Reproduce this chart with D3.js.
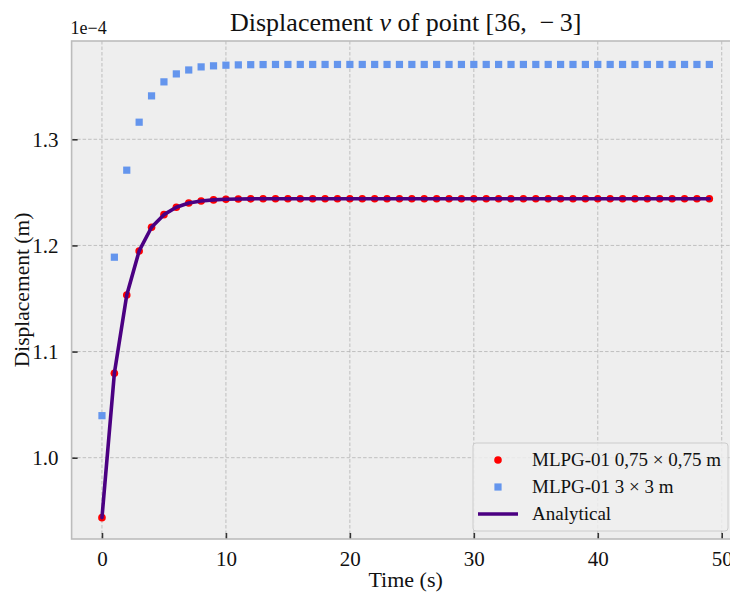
<!DOCTYPE html>
<html>
<head>
<meta charset="utf-8">
<script src="https://cdn.jsdelivr.net/npm/d3@7"></script>
<style>
  body { margin: 0; background: #fff; }
  svg { display: block; font-family: "Liberation Serif", "DejaVu Serif", serif; }
</style>
</head>
<body>
<svg id="chart" width="730" height="594"></svg>
<script>
// time steps (s)
var time = [0, 1, 2, 3, 4, 5, 6, 7, 8, 9, 10, 11, 12, 13, 14, 15, 16, 17, 18, 19,
            20, 21, 22, 23, 24, 25, 26, 27, 28, 29, 30, 31, 32, 33, 34, 35, 36, 37, 38, 39,
            40, 41, 42, 43, 44, 45, 46, 47, 48, 49];

// displacement, units of 1e-4 m
var mlpgFine = [0.9435, 1.0795, 1.1533, 1.1948, 1.2171, 1.2290, 1.2360, 1.2400, 1.2419, 1.2429,
                1.2435, 1.2438, 1.2439, 1.2440, 1.2440, 1.2440, 1.2440, 1.2440, 1.2440, 1.2440,
                1.2440, 1.2440, 1.2440, 1.2440, 1.2440, 1.2440, 1.2440, 1.2440, 1.2440, 1.2440,
                1.2440, 1.2440, 1.2440, 1.2440, 1.2440, 1.2440, 1.2440, 1.2440, 1.2440, 1.2440,
                1.2440, 1.2440, 1.2440, 1.2440, 1.2440, 1.2440, 1.2440, 1.2440, 1.2440, 1.2440];

var mlpgCoarse = [1.0396, 1.1889, 1.2709, 1.3161, 1.3409, 1.3541, 1.3616, 1.3653, 1.3682, 1.3692,
                  1.3698, 1.3701, 1.3703, 1.3704, 1.3705, 1.3705, 1.3705, 1.3705, 1.3705, 1.3705,
                  1.3705, 1.3705, 1.3705, 1.3705, 1.3705, 1.3705, 1.3705, 1.3705, 1.3705, 1.3705,
                  1.3705, 1.3705, 1.3705, 1.3705, 1.3705, 1.3705, 1.3705, 1.3705, 1.3705, 1.3705,
                  1.3705, 1.3705, 1.3705, 1.3705, 1.3705, 1.3705, 1.3705, 1.3705, 1.3705, 1.3705];

var analytical = [0.9435, 1.0795, 1.1533, 1.1948, 1.2171, 1.2290, 1.2360, 1.2400, 1.2419, 1.2429,
                  1.2435, 1.2438, 1.2439, 1.2440, 1.2440, 1.2440, 1.2440, 1.2440, 1.2440, 1.2440,
                  1.2440, 1.2440, 1.2440, 1.2440, 1.2440, 1.2440, 1.2440, 1.2440, 1.2440, 1.2440,
                  1.2440, 1.2440, 1.2440, 1.2440, 1.2440, 1.2440, 1.2440, 1.2440, 1.2440, 1.2440,
                  1.2440, 1.2440, 1.2440, 1.2440, 1.2440, 1.2440, 1.2440, 1.2440, 1.2440, 1.2440];

var xTicks = [0, 10, 20, 30, 40, 50];
var yTicks = [1.0, 1.1, 1.2, 1.3];
var legendLabels = ["MLPG-01 0,75 \u00d7 0,75 m", "MLPG-01 3 \u00d7 3 m", "Analytical"];

(function() {
  var x0 = 71.6, x1 = 739.7, y0 = 41, y1 = 539;

  var svg = d3.select("#chart");

  var x = d3.scaleLinear().domain([-2.45, 51.45]).range([x0, x1]);
  var y = d3.scaleLinear().domain([0.9234, 1.3926]).range([y1, y0]);

  // background
  svg.append("rect")
      .attr("x", x0).attr("y", y0)
      .attr("width", x1 - x0).attr("height", y1 - y0)
      .attr("fill", "#eeeeee");

  // grid
  var grid = svg.append("g")
      .attr("stroke", "#b2b2b2")
      .attr("stroke-width", 0.8)
      .attr("stroke-dasharray", "3.5,2");
  grid.selectAll(".gx").data(xTicks).enter().append("line")
      .attr("x1", d => x(d)).attr("x2", d => x(d))
      .attr("y1", y0).attr("y2", y1);
  grid.selectAll(".gy").data(yTicks).enter().append("line")
      .attr("x1", x0).attr("x2", x1)
      .attr("y1", d => y(d)).attr("y2", d => y(d));

  // axes, ticks pointing inwards
  var xAxis = svg.append("g")
      .attr("transform", "translate(0," + y1 + ")")
      .call(d3.axisBottom(x).tickValues(xTicks).tickSizeInner(-6).tickSizeOuter(0).tickPadding(12).tickFormat(d3.format("d")));
  var yAxis = svg.append("g")
      .attr("transform", "translate(" + x0 + ",0)")
      .call(d3.axisLeft(y).tickValues(yTicks).tickSizeInner(-6).tickSizeOuter(0).tickPadding(13).tickFormat(d3.format(".1f")));

  [xAxis, yAxis].forEach(function(a) {
    a.select(".domain").remove();
    a.selectAll(".tick line").attr("stroke", "#333").attr("stroke-width", 1.6);
    a.selectAll(".tick text")
        .attr("fill", "#111")
        .style("font-family", "'Liberation Serif', serif")
        .style("font-size", "21px");
  });

  // frame
  svg.append("rect")
      .attr("x", x0).attr("y", y0)
      .attr("width", x1 - x0).attr("height", y1 - y0)
      .attr("fill", "none")
      .attr("stroke", "#bcbcbc")
      .attr("stroke-width", 1.6);

  // series
  svg.append("g").selectAll("circle").data(time).enter().append("circle")
      .attr("cx", d => x(d))
      .attr("cy", (d, i) => y(mlpgFine[i]))
      .attr("r", 3.8)
      .attr("fill", "#ff0000");

  svg.append("g").selectAll("rect").data(time).enter().append("rect")
      .attr("x", d => x(d) - 3.6)
      .attr("y", (d, i) => y(mlpgCoarse[i]) - 3.6)
      .attr("width", 7.2).attr("height", 7.2)
      .attr("fill", "#6495ed");

  var line = d3.line()
      .x((d, i) => x(time[i]))
      .y(d => y(d));

  svg.append("path")
      .datum(analytical)
      .attr("d", line)
      .attr("fill", "none")
      .attr("stroke", "#4b0082")
      .attr("stroke-width", 3.6)
      .attr("stroke-linejoin", "round")
      .attr("stroke-linecap", "round");

  // title and labels
  var title = svg.append("text")
      .attr("x", (x0 + x1) / 2)
      .attr("y", 31)
      .attr("text-anchor", "middle")
      .style("font-size", "26px")
      .attr("fill", "#111");
  title.append("tspan").text("Displacement ");
  title.append("tspan").style("font-style", "italic").text("v");
  title.append("tspan").text(" of point [36,\u2002\u2212\u20093]");

  svg.append("text")
      .attr("x", x0 - 1)
      .attr("y", 34)
      .style("font-size", "18px")
      .attr("fill", "#111")
      .text("1e\u22124");

  svg.append("text")
      .attr("x", (x0 + x1) / 2)
      .attr("y", 587)
      .attr("text-anchor", "middle")
      .style("font-size", "22px")
      .attr("fill", "#111")
      .text("Time (s)");

  svg.append("text")
      .attr("transform", "translate(29," + ((y0 + y1) / 2) + ") rotate(-90)")
      .attr("text-anchor", "middle")
      .style("font-size", "21.5px")
      .attr("fill", "#111")
      .text("Displacement (m)");

  // legend
  var legend = svg.append("g");
  legend.append("rect")
      .attr("x", 473).attr("y", 443)
      .attr("width", 255).attr("height", 88)
      .attr("rx", 3)
      .attr("fill", "#eeeeee").attr("fill-opacity", 0.85)
      .attr("stroke", "#cccccc").attr("stroke-width", 1);

  var rowY = [460, 487, 514];
  legend.append("circle").attr("cx", 498).attr("cy", rowY[0]).attr("r", 3.8).attr("fill", "#ff0000");
  legend.append("rect").attr("x", 494.4).attr("y", rowY[1] - 3.6).attr("width", 7.2).attr("height", 7.2).attr("fill", "#6495ed");
  legend.append("line").attr("x1", 478).attr("x2", 518).attr("y1", rowY[2]).attr("y2", rowY[2])
      .attr("stroke", "#4b0082").attr("stroke-width", 3.6);

  legend.selectAll(".lbl").data(legendLabels).enter().append("text")
      .attr("x", 532)
      .attr("y", (d, i) => rowY[i] + 6)
      .style("font-size", "19px")
      .attr("fill", "#111")
      .text(d => d);
})();
</script>
</body>
</html>
